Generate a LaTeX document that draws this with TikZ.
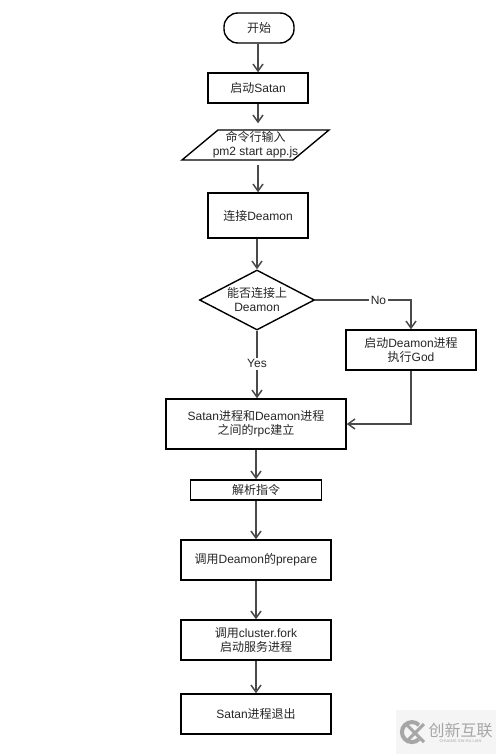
\documentclass[tikz,border=0pt]{standalone}
\usepackage{fontspec}
\setmainfont{Liberation Sans}
\newfontfamily\cjk{Noto Sans CJK SC}
\newcommand{\zh}[1]{{\cjk #1}}
\usetikzlibrary{shapes.geometric,arrows.meta}
\definecolor{ink}{HTML}{262626}
\definecolor{linkgrey}{HTML}{4A4A4A}
\definecolor{wmgrey}{HTML}{A6A6A6}
\tikzset{
  every node/.style={font=\fontsize{12}{14}\selectfont,text=ink,align=center},
  boxnode/.style={draw=black,line width=1.4pt,inner sep=0pt,rectangle},
  startnode/.style={boxnode,rounded corners=14pt},
  decision/.style={draw=black,line width=1.4pt,diamond,aspect=1.92,inner sep=0pt,minimum width=115pt,minimum height=60pt},
  edgelabel/.style={fill=white,inner sep=1.5pt},
  conn/.style={draw=linkgrey,line width=1.5pt,-{Straight Barb[length=7pt,width=10pt,line width=1.5pt]}}
}
\begin{document}
\begin{tikzpicture}[x=1pt,y=-1pt]
\useasboundingbox (0,0) rectangle (496,754);
\fill[white] (0,0) rectangle (496,754);

\node[startnode,minimum width=70pt,minimum height=30pt] (start) at (259,28) {\zh{开始}};
\node[boxnode,minimum width=100pt,minimum height=30pt] (launch) at (258,88) {\zh{启动}Satan};
\draw[black,line width=1.4pt,line join=miter] (218,130) -- (329,130) -- (293,160) -- (182,160) -- cycle;
\node[inner sep=0pt,minimum width=100pt,minimum height=30pt] (input) at (255.5,144.5) {\zh{命令行输入}\\pm2 start app.js};
\node[boxnode,minimum width=100pt,minimum height=45pt] (connect) at (258,215.5) {\zh{连接}Deamon};
\node[decision,label={[inner sep=0pt]center:{\zh{能否连接上}\\Deamon}}] (can) at (257,300) {};
\node[boxnode,minimum width=130pt,minimum height=40pt] (god) at (411,350) {\zh{启动}Deamon\zh{进程}\\\zh{执行}God};
\node[boxnode,minimum width=180pt,minimum height=50pt] (rpc) at (256,424) {Satan\zh{进程和}Deamon\zh{进程}\\\zh{之间的}rpc\zh{建立}};
\node[boxnode,minimum width=131pt,minimum height=20pt] (parse) at (256,490) {\zh{解析指令}};
\node[boxnode,minimum width=150pt,minimum height=40pt] (prepare) at (256,560) {\zh{调用}Deamon\zh{的}prepare};
\node[boxnode,minimum width=150pt,minimum height=40pt] (fork) at (256,640) {\zh{调用}cluster.fork\\\zh{启动服务进程}};
\node[boxnode,minimum width=150pt,minimum height=40pt] (quit) at (256,714) {Satan\zh{进程退出}};

\draw[conn] (start.south -| launch.north) -- (launch.north);
\draw[conn,shorten >=6pt] (launch.south) -- (launch.south |- input.north);
\draw[conn,shorten <=5pt] (connect.north |- input.south) -- (connect.north);
\draw[conn] (connect.south -| can.north) -- (can.north);
\draw[conn] (can.east) -| node[edgelabel,pos=0.33] (no) {No} (god.north);
\draw[conn] (can.south) -- node[edgelabel,pos=0.49] (yes) {Yes} (can.south |- rpc.north);
\draw[conn] (god.south) |- (rpc.east);
\draw[conn] (rpc.south) -- (parse.north);
\draw[conn] (parse.south) -- (prepare.north);
\draw[conn] (prepare.south) -- (fork.north);
\draw[conn] (fork.south) -- (quit.north);

% watermark
\fill[black!4] (396,710) rectangle (496,754);
\draw[wmgrey,line width=4pt] (419,725) arc[start angle=45,end angle=315,radius=10pt];
\draw[wmgrey,line width=3pt] (406,724) -- (424,742) (424,724) -- (406,742);
\node[text=wmgrey,inner sep=0pt] (brand) at (460.5,730) {\fontsize{16}{16}\selectfont\cjk 创新互联};
\node[text=wmgrey,inner sep=0pt] (brandsub) at (460.5,741) {\fontsize{4}{4}\selectfont CHUANG XIN HU LIAN};
\end{tikzpicture}
\end{document}
